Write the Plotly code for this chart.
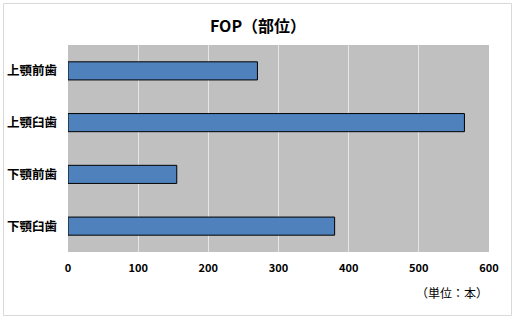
import plotly.graph_objects as go

categories = ["上顎前歯", "上顎臼歯", "下顎前歯", "下顎臼歯"]
values = [270, 565, 155, 380]
x_ticks = [0, 100, 200, 300, 400, 500, 600]

W, H = 520, 319
L, R, T, B = 68, 31, 45, 67
pw, ph = W - L - R, H - T - B

fig = go.Figure(go.Bar(
    y=categories, x=values, orientation="h",
    marker=dict(color="#4f81bd", line=dict(color="#000000", width=1)),
))

def px(x):
    return (x - L) / pw

def py(y):
    return (H - B - y) / ph

fig.update_layout(
    width=W, height=H,
    margin=dict(l=L, r=R, t=T, b=B),
    paper_bgcolor="white", plot_bgcolor="#c0c0c0",
    bargap=0.65,
    showlegend=False,
    title=dict(text="<b>FOP（部位）</b>", x=258 / W, y=1 - 26 / H, xref="container", yref="container",
               xanchor="center", yanchor="middle",
               font=dict(family="Noto Sans CJK JP", size=16, color="#000000")),
    xaxis=dict(range=[0, 600], tickvals=x_ticks, ticktext=[f"<b>{v}</b>" for v in x_ticks],
               showgrid=True, gridcolor="#e6e6e6", gridwidth=1, zeroline=False,
               showline=False, ticks="", ticklabelstandoff=8, automargin=False,
               tickfont=dict(family="Noto Sans CJK JP", size=11, color="#000000")),
    yaxis=dict(autorange="reversed", showgrid=False, zeroline=False, ticks="",
               tickvals=categories, ticktext=[f"<b>{c}</b>" for c in categories],
               ticklabelstandoff=10, automargin=False,
               tickfont=dict(family="Noto Sans CJK JP", size=12.5, color="#000000")),
    annotations=[dict(text="（単位：本）", x=px(452), y=py(292), xref="paper", yref="paper",
                      showarrow=False, xanchor="center", yanchor="middle",
                      font=dict(family="Noto Sans CJK JP", size=12, color="#000000"))],
    shapes=[dict(type="rect", xref="paper", yref="paper",
                 x0=px(3.5), x1=px(511.5), y0=py(315.5), y1=py(3.5),
                 line=dict(color="#d9d9d9", width=1), fillcolor="rgba(0,0,0,0)", layer="below")],
)

fig.write_html("out.html")
